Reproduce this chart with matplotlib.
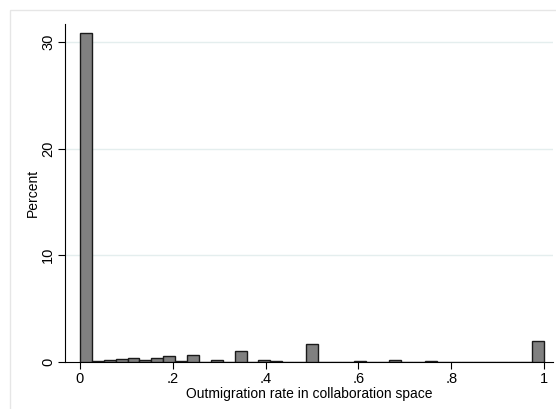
import numpy as np
import matplotlib.pyplot as plt
from matplotlib.patches import Rectangle

plt.rcParams['font.family'] = ['Liberation Sans', 'DejaVu Sans']

# histogram of outmigration rate: 39 equal bins on [0, 1], heights in percent
n_bins = 39
percent = [30.8, 0.08, 0.22, 0.28, 0.37, 0.22, 0.37, 0.6, 0.08, 0.64,
           0.0, 0.17, 0.0, 1.0, 0.0, 0.19, 0.1, 0.03, 0.0, 1.65,
           0.0, 0.0, 0.0, 0.08, 0.02, 0.0, 0.2, 0.0, 0.0, 0.11,
           0.0, 0.03, 0.03, 0.03, 0.0, 0.03, 0.0, 0.0, 1.93]
x_ticks = [0, 0.2, 0.4, 0.6, 0.8, 1]
x_ticklabels = ['0', '.2', '.4', '.6', '.8', '1']
y_ticks = [0, 10, 20, 30]

edges = np.linspace(0, 1, n_bins + 1)

fig = plt.figure(figsize=(5.56, 4.09), dpi=100)
# light outer frame of the graph region (cropped on right and bottom)
fig.patches.append(Rectangle((10 / 556, -0.05), 1.1, (409 - 10) / 409 + 0.05,
                             transform=fig.transFigure, fill=False,
                             edgecolor='#e6e6e6', linewidth=1.0))

ax = fig.add_axes([65 / 556, 47 / 409, 488 / 556, 338 / 409])
ax.bar(edges[:-1], percent, width=1 / n_bins, align='edge',
       color='#808080', edgecolor='#1a1a1a', linewidth=1.0, zorder=3)

ax.set_xlim(-15 / 464, 473 / 464)
ax.set_ylim(0, 338 / 10.67)

for y in y_ticks[1:]:
    ax.axhline(y, color='#e4eeee', linewidth=1.0, zorder=1)

ax.spines['top'].set_visible(False)
ax.spines['right'].set_visible(False)
ax.spines['left'].set_linewidth(0.8)
ax.spines['bottom'].set_linewidth(0.8)

ax.set_xticks(x_ticks)
ax.set_xticklabels(x_ticklabels)
ax.set_yticks(y_ticks)
ax.set_yticklabels([str(v) for v in y_ticks], rotation=90, va='center')
ax.tick_params(axis='both', direction='out', length=5, width=0.8,
               labelsize=10.5, pad=2)

ax.set_xlabel('Outmigration rate in collaboration space', fontsize=10, labelpad=1)
ax.set_ylabel('Percent', fontsize=10, labelpad=1)

fig.savefig('out.png', dpi=100)
